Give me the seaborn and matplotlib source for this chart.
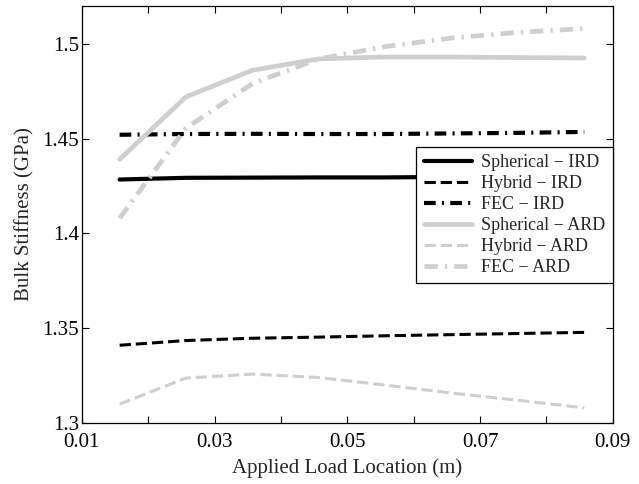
import numpy as np
import pandas as pd
import matplotlib
matplotlib.use("Agg")
import matplotlib.pyplot as plt
import seaborn as sns

# --- Data ---
load_loc = [0.0157, 0.0257, 0.0357, 0.0457, 0.0557, 0.0657, 0.0757, 0.0857]
spherical_ird = [1.4284, 1.4293, 1.4294, 1.4295, 1.4295, 1.4298, 1.4300, 1.4302]
hybrid_ird = [1.3410, 1.3435, 1.3447, 1.3453, 1.3460, 1.3466, 1.3472, 1.3478]
fec_ird = [1.4520, 1.4524, 1.4525, 1.4524, 1.4524, 1.4527, 1.4530, 1.4535]
spherical_ard = [1.4390, 1.4720, 1.4860, 1.4920, 1.4930, 1.4930, 1.4927, 1.4925]
hybrid_ard = [1.3100, 1.3237, 1.3258, 1.3240, 1.3200, 1.3158, 1.3120, 1.3080]
fec_ard = [1.4080, 1.4555, 1.4790, 1.4920, 1.4985, 1.5030, 1.5060, 1.5080]

GRAY = "#cfcfcf"
DASHDOT = (0, (2.8, 1.5, 0.5, 1.5))
series = [
    ("Spherical \u2212 IRD", spherical_ird, "black", "-", 3.0),
    ("Hybrid \u2212 IRD", hybrid_ird, "black", "--", 2.2),
    ("FEC \u2212 IRD", fec_ird, "black", DASHDOT, 3.0),
    ("Spherical \u2212 ARD", spherical_ard, GRAY, "-", 3.4),
    ("Hybrid \u2212 ARD", hybrid_ard, GRAY, "--", 2.2),
    ("FEC \u2212 ARD", fec_ard, GRAY, DASHDOT, 3.4),
]

rows = []
for name, vals, _, _, _ in series:
    for x, y in zip(load_loc, vals):
        rows.append({"loc": x, "stiffness": y, "case": name})
df = pd.DataFrame(rows)

# --- Plot ---
sns.set_style("ticks")
plt.rcParams["font.family"] = ["Liberation Serif", "DejaVu Serif"]

fig = plt.figure(figsize=(6.39, 4.84), dpi=100)
ax = fig.add_axes([0.128, 0.126, 0.831, 0.862])

for name, _, color, ls, lw in series:
    sub = df[df["case"] == name]
    sns.lineplot(data=sub, x="loc", y="stiffness", ax=ax, color=color,
                 linestyle=ls, linewidth=lw, label=name)

ax.set_xlim(0.01, 0.09)
ax.set_ylim(1.3, 1.52)
ax.set_xticks(np.arange(0.01, 0.0901, 0.01))
ax.set_xticklabels(["0.01", "", "0.03", "", "0.05", "", "0.07", "", "0.09"])
ax.set_yticks([1.3, 1.35, 1.4, 1.45, 1.5])
ax.set_yticklabels(["1.3", "1.35", "1.4", "1.45", "1.5"])
ax.tick_params(direction="in", top=True, right=True, labelsize=15, length=5,
               width=0.8, colors="black")
ax.tick_params(axis="y", pad=2)
ax.tick_params(axis="x", pad=7)
for sp in ax.spines.values():
    sp.set_linewidth(0.9)
    sp.set_color("black")

ax.set_xlabel("Applied Load Location (m)", fontsize=15, labelpad=5)
ax.set_ylabel("Bulk Stiffness (GPa)", fontsize=15, labelpad=6)

leg = ax.legend(loc="upper right", bbox_to_anchor=(1.0, 0.662), fontsize=13,
                frameon=True, fancybox=False, edgecolor="black", framealpha=1,
                borderaxespad=0, handlelength=2.7, labelspacing=0.22,
                borderpad=0.4, handletextpad=0.5)
leg.get_frame().set_linewidth(0.9)

fig.savefig("out.png", dpi=100)
